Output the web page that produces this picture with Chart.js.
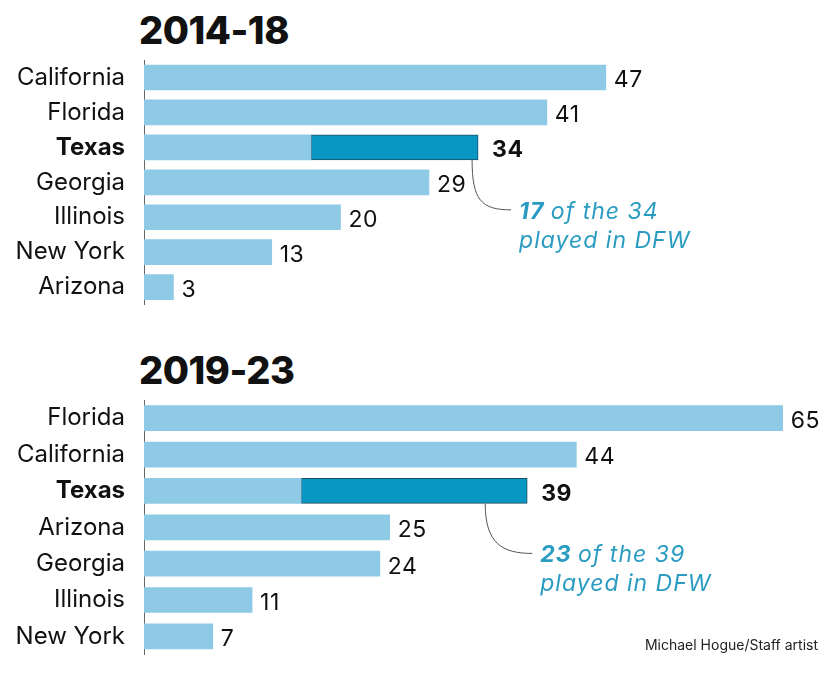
<!DOCTYPE html>
<html>
<head>
<meta charset="utf-8">
<script src="https://cdn.jsdelivr.net/npm/chart.js@4/dist/chart.umd.min.js"></script>
<style>
  body { margin: 0; background: #fff; }
  #wrap { position: relative; width: 830px; height: 675px; overflow: hidden; font-family: Inter, sans-serif; }
  canvas { position: absolute; left: 0; }
  .title { position: absolute; left: 139px; font-size: 38px; font-weight: 800; color: #111; letter-spacing: -0.5px; }
  #credit { position: absolute; right: 12px; top: 636px; font-size: 14px; color: #222; }
</style>
</head>
<body>
<div id="wrap">
  <div class="title" style="top:7px">2014-18</div>
  <div class="title" style="top:347px">2019-23</div>
  <canvas id="c1" width="830" height="330" style="top:0"></canvas>
  <canvas id="c2" width="830" height="340" style="top:340px"></canvas>
  <div id="credit">Michael Hogue/Staff artist</div>
</div>
<script>
// Data
const states1 = ['California', 'Florida', 'Texas', 'Georgia', 'Illinois', 'New York', 'Arizona'];
const totals1 = [47, 41, 34, 29, 20, 13, 3];
const dfw1 = 17;

const states2 = ['Florida', 'California', 'Texas', 'Arizona', 'Georgia', 'Illinois', 'New York'];
const totals2 = [65, 44, 39, 25, 24, 11, 7];
const dfw2 = 23;

const LIGHT = '#8ec9e5';
const DARK = '#0897c3';
const NOTE = '#2a9cc2';
const FONT = 'Inter, sans-serif';

// value labels at bar ends + callout note
const labelsPlugin = {
    id: 'labels',
    afterDatasetsDraw(chart, args, opts) {
        const ctx = chart.ctx;
        const x = chart.scales.x, y = chart.scales.y;
        ctx.save();
        ctx.letterSpacing = '0.5px';
        opts.totals.forEach((v, i) => {
            const bold = opts.states[i] === 'Texas';
            ctx.font = (bold ? '700 ' : '400 ') + '23px ' + FONT;
            ctx.fillStyle = '#111';
            ctx.textBaseline = 'middle';
            ctx.textAlign = 'left';
            ctx.fillText(v, x.getPixelForValue(v) + (bold ? 14 : 8), y.getPixelForValue(i) + 3);
        });
        // callout
        const ti = opts.states.indexOf('Texas');
        const tot = opts.totals[ti];
        const sx = x.getPixelForValue(tot) + opts.lineDx;
        const sy = y.getPixelForValue(ti) + 12.5;
        const ex = sx + opts.noteDx - 8, ey = sy + 52;
        ctx.strokeStyle = '#555';
        ctx.lineWidth = 1;
        ctx.beginPath();
        ctx.moveTo(sx, sy);
        ctx.bezierCurveTo(sx, sy + 40, ex - 30, ey - 2, ex, ey - 2);
        ctx.stroke();
        const tx = sx + opts.noteDx;
        ctx.fillStyle = NOTE;
        ctx.letterSpacing = '1px';
        ctx.font = 'italic 700 23px ' + FONT;
        ctx.fillText(opts.dfw, tx, ey);
        const w = ctx.measureText(opts.dfw + ' ').width;
        ctx.font = 'italic 400 23px ' + FONT;
        ctx.fillText('of the ' + tot, tx + w, ey);
        ctx.fillText('played in DFW', tx, ey + 29);
        ctx.restore();
    }
};

function makeChart(id, states, totals, dfw, padTop, lineDx, noteDx) {
    const ti = states.indexOf('Texas');
    const base = totals.map((v, i) => i === ti ? v - dfw : v);
    const dfwData = totals.map((v, i) => i === ti ? dfw : 0);
    return new Chart(document.getElementById(id), {
        type: 'bar',
        data: {
            labels: states,
            datasets: [
                { data: base, backgroundColor: LIGHT, barThickness: 25, borderWidth: 0 },
                { data: dfwData, backgroundColor: DARK, borderColor: '#1d4d60', borderWidth: 1, borderSkipped: false, barThickness: 25 }
            ]
        },
        options: {
            indexAxis: 'y',
            responsive: false,
            animation: false,
            layout: { padding: { top: padTop, bottom: 0, right: 8, left: 0 } },
            plugins: {
                legend: { display: false },
                tooltip: { enabled: false },
                labels: { states, totals, dfw, lineDx, noteDx }
            },
            scales: {
                x: { stacked: true, display: false, min: 0, max: 69 },
                y: {
                    stacked: true,
                    grid: { display: false },
                    border: { display: true, color: '#666', width: 1 },
                    afterFit(scale) { scale.width = 144; },
                    ticks: {
                        padding: 11,
                        color: '#111',
                        font: ctx => ({ family: FONT, size: 24, weight: states[ctx.index] === 'Texas' ? '700' : '400' })
                    }
                }
            }
        },
        plugins: [labelsPlugin]
    });
}

makeChart('c1', states1, totals1, dfw1, 60, -6, 47);
makeChart('c2', states2, totals2, dfw2, 60, -42, 55);
</script>
</body>
</html>
